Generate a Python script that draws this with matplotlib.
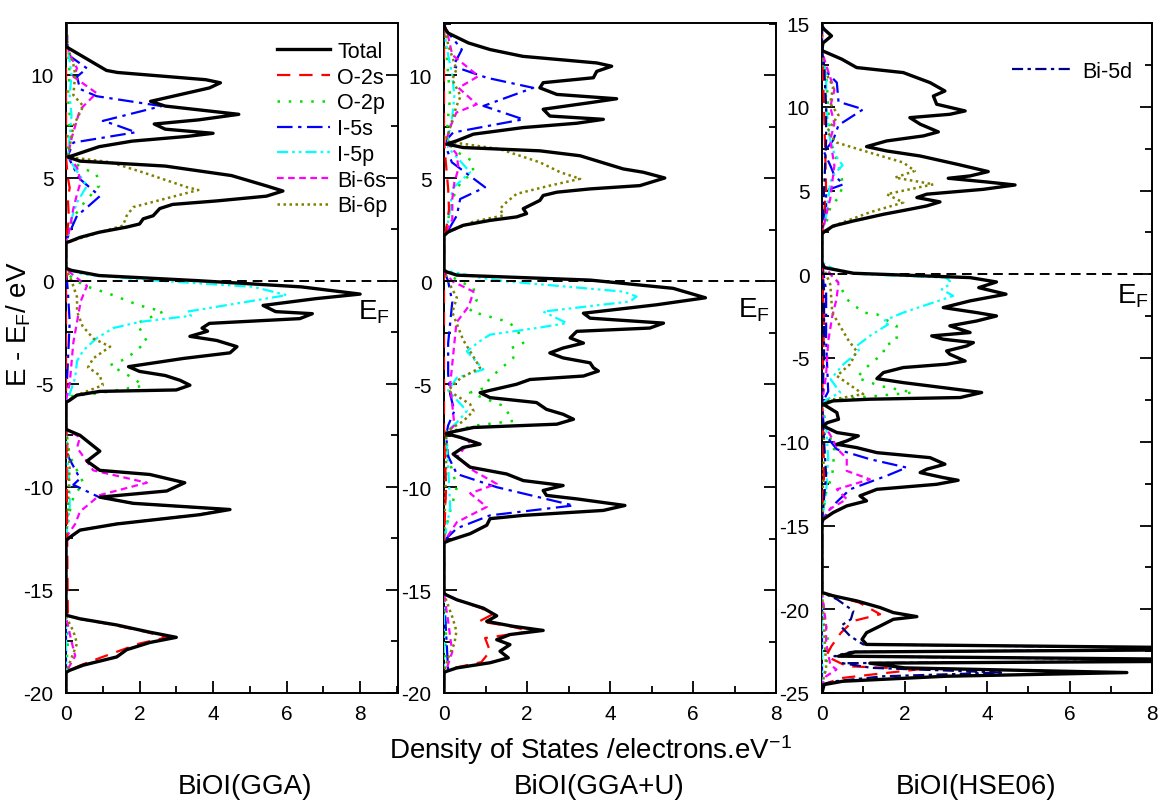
import matplotlib
matplotlib.use("Agg")
import matplotlib.pyplot as plt
from matplotlib.ticker import MultipleLocator

plt.rcParams['font.family'] = ['Liberation Sans', 'DejaVu Sans']
plt.rcParams['mathtext.fontset'] = 'custom'
plt.rcParams['mathtext.rm'] = 'Liberation Sans'
plt.rcParams['mathtext.it'] = 'Liberation Sans:italic'
plt.rcParams['axes.unicode_minus'] = False

# ---------------- data: (energy eV, DOS) pairs ----------------
# BiOI (GGA)
gga_total = [(12.5, 0), (11.35, 0), (11.3, 0.05), (10.2, 1.1), (10.1, 1.4), (9.75, 3.8), (9.6, 4.2), (9.35, 3.9),
             (8.7, 2.3), (8.47, 2.7), (8.07, 4.7), (7.8, 3.6), (7.6, 2.4), (7.35, 2.7), (7.15, 4.0), (7.0, 3.3),
             (6.77, 1.8), (6.5, 0.9), (6.05, 0.15), (6.0, 0.05), (5.8, 0.38), (5.56, 2.7), (5.1, 4.5), (4.6, 5.45),
             (4.35, 5.9), (4.1, 5.45), (3.87, 4.1), (3.7, 2.9), (3.5, 2.55), (3.15, 2.37), (3.0, 2.1), (2.75, 2.0),
             (2.6, 1.65), (2.35, 0.9), (2.1, 0.38), (1.9, 0.1), (1.85, 0), (0.6, 0), (0.5, 0.15), (0.25, 0.9),
             (0.0, 3.6), (-0.3, 6.4), (-0.65, 8.0), (-0.87, 6.8), (-1.2, 5.36), (-1.5, 5.7), (-1.6, 6.7),
             (-1.84, 6.36), (-2.07, 3.9), (-2.3, 3.7), (-2.45, 3.85), (-2.7, 3.37), (-2.9, 4.1), (-3.2, 4.65),
             (-3.5, 4.46), (-3.77, 3.2), (-4.17, 1.7), (-4.4, 2.0), (-4.6, 2.7), (-4.83, 3.1), (-5.07, 3.37),
             (-5.3, 3.0), (-5.37, 0.92), (-5.55, 0.3), (-5.8, 0.1), (-5.9, 0), (-7.2, 0), (-7.25, 0.05),
             (-7.5, 0.38), (-8.27, 0.92), (-8.75, 0.57), (-9.2, 0.92), (-9.4, 2.28), (-9.8, 3.23), (-10.2, 2.74),
             (-10.5, 0.92), (-10.8, 1.83), (-11.1, 4.46), (-11.35, 3.64), (-11.8, 1.38), (-12.1, 0.38),
             (-12.45, 0.1), (-12.6, 0), (-16.2, 0), (-16.25, 0.05), (-16.4, 0.38), (-16.7, 1.38), (-17.05, 2.28),
             (-17.3, 3.0), (-17.55, 2.28), (-17.9, 1.65), (-18.25, 1.38), (-18.65, 0.47), (-18.9, 0.1),
             (-19.0, 0), (-20, 0)]
gga_o2s = [(12.5, 0), (6.0, 0), (5.0, 0.05), (4.5, 0.1), (4.0, 0.05), (3.0, 0.08), (2.0, 0), (0.5, 0), (-5.8, 0),
           (-16.2, 0.05), (-16.4, 0.35), (-16.7, 1.3), (-17.05, 2.2), (-17.3, 2.74), (-17.6, 2.0), (-18.3, 0.92),
           (-18.65, 0.4), (-18.9, 0.1), (-19.0, 0), (-20, 0)]
gga_o2p = [(12.5, 0), (11.3, 0.05), (10.0, 0.1), (9.0, 0.05), (8.0, 0.1), (7.0, 0.05), (6.0, 0.05), (5.5, 0.4),
           (5.17, 0.83), (4.6, 0.9), (3.8, 0.5), (3.2, 0.25), (2.5, 0.1), (1.9, 0), (0.55, 0), (0.25, 0.1),
           (0.0, 0.25), (-0.3, 0.6), (-0.65, 1.2), (-1.2, 2.0), (-1.5, 2.64), (-2.07, 1.93), (-2.95, 2.2),
           (-3.77, 1.65), (-4.1, 1.2), (-4.73, 1.83), (-5.1, 2.1), (-5.45, 0.92), (-5.6, 0.15), (-5.9, 0),
           (-7.2, 0), (-8.5, 0.1), (-9.8, 0.47), (-10.5, 0.2), (-11.2, 0.1), (-12.5, 0), (-16.2, 0),
           (-17.5, 0.05), (-19, 0), (-20, 0)]
gga_i5s = [(12.5, 0), (11.3, 0.05), (10.9, 0.1), (10.3, 0.57), (9.9, 0.3), (9.3, 0.38), (8.95, 0.83),
           (8.47, 2.6), (7.75, 1.0), (7.6, 1.28), (7.2, 1.9), (6.7, 0.2), (6.05, 0.05), (5.5, 0.2), (4.93, 0.38),
           (4.1, 0.92), (3.6, 0.6), (3.15, 0.3), (2.35, 0.1), (1.9, 0), (0.55, 0), (-0.5, 0.05), (-2, 0.1),
           (-4, 0.05), (-5.8, 0), (-7.2, 0), (-8.5, 0.05), (-9.6, 0.38), (-9.9, 0.2), (-10.5, 0.9),
           (-10.8, 1.83), (-11.1, 4.4), (-11.35, 3.6), (-11.8, 1.38), (-12.1, 0.38), (-12.45, 0.1),
           (-12.6, 0), (-20, 0)]
gga_i5p = [(12.5, 0), (11.3, 0.05), (10.0, 0.15), (9.0, 0.1), (8.0, 0.15), (7.0, 0.1), (6.0, 0.05), (5.3, 0.3),
           (4.6, 0.57), (3.8, 0.3), (3.0, 0.15), (1.9, 0), (0.55, 0), (0.3, 0.5), (0.0, 2.5), (-0.3, 5.1),
           (-0.7, 6.0), (-1.0, 5.0), (-1.5, 3.3), (-1.7, 3.4), (-2.0, 2.0), (-2.3, 1.28), (-2.8, 0.83),
           (-3.38, 0.47), (-3.9, 0.3), (-4.7, 0.25), (-5.5, 0.1), (-5.9, 0), (-7.2, 0), (-9.0, 0.05),
           (-10.0, 0.1), (-11.0, 0.1), (-12.5, 0), (-20, 0)]
gga_bi6s = [(12.5, 0), (11.3, 0.05), (10.8, 0.15), (10.3, 0.3), (9.9, 0.2), (9.1, 0.83), (8.3, 0.38),
            (7.5, 0.25), (6.9, 0.15), (6.05, 0.05), (5.5, 0.3), (4.8, 0.4), (4.2, 0.3), (3.5, 0.2), (2.5, 0.1),
            (1.9, 0), (0.55, 0), (-0.25, 0.57), (-1.0, 0.4), (-2.0, 0.3), (-3.0, 0.2), (-4.0, 0.15),
            (-5.0, 0.1), (-5.8, 0), (-7.2, 0), (-7.6, 0.38), (-8.1, 0.3), (-9.2, 0.74), (-9.8, 2.2),
            (-10.4, 0.92), (-11.2, 0.38), (-11.8, 0.25), (-12.45, 0), (-16.3, 0), (-17.5, 0.15),
            (-18.2, 0.25), (-19, 0), (-20, 0)]
gga_bi6p = [(12.5, 0), (11.3, 0.05), (10.5, 0.2), (10.0, 0.25), (9.0, 0.2), (8.47, 0.47), (7.5, 0.2),
            (6.5, 0.1), (6.0, 0.05), (5.75, 1.2), (5.25, 2.1), (4.53, 3.3), (4.4, 3.6), (3.57, 1.83),
            (3.15, 1.65), (2.67, 1.55), (2.35, 0.92), (1.9, 0.1), (1.85, 0), (0.55, 0), (0.0, 0.15),
            (-0.8, 0.3), (-1.5, 0.3), (-2.2, 0.45), (-2.8, 0.74), (-3.2, 1.2), (-3.77, 0.74), (-4.2, 0.6),
            (-4.6, 0.92), (-5.07, 1.0), (-5.55, 0.3), (-5.85, 0), (-7.2, 0), (-9, 0.1), (-11, 0.05),
            (-12.5, 0), (-16.3, 0), (-17.0, 0.2), (-17.6, 0.3), (-18.3, 0.15), (-19, 0), (-20, 0)]

# BiOI (GGA+U)
ggau_total = [(12.5, 0), (12.3, 0.02), (12.06, 0.1), (11.58, 0.59), (11.26, 1.11), (10.93, 1.9), (10.61, 3.68),
              (10.45, 4.04), (10.2, 3.68), (9.89, 3.6), (9.65, 2.39), (9.4, 2.31), (9.08, 2.72), (8.87, 4.16),
              (8.68, 3.52), (8.36, 2.39), (8.03, 2.55), (7.87, 3.84), (7.68, 3.2), (7.47, 1.91), (7.15, 0.71),
              (6.83, 0.31), (6.67, 0.07), (6.5, 0.46), (6.34, 2.31), (6.1, 3.28), (5.46, 4.32), (5.3, 4.8),
              (5.02, 5.32), (4.65, 4.72), (4.49, 3.52), (4.33, 2.72), (4.17, 2.39), (3.93, 2.31), (3.69, 2.07),
              (3.53, 1.91), (3.29, 1.99), (3.13, 1.75), (2.96, 1.11), (2.72, 0.46), (2.4, 0.1), (2.23, 0),
              (0.55, 0), (0.47, 0.05), (0.3, 0.31), (0.06, 3.52), (-0.34, 5.52), (-0.8, 6.3), (-1.14, 5.12),
              (-1.55, 3.36), (-1.79, 3.52), (-2.03, 5.29), (-2.27, 4.96), (-2.43, 3.2), (-2.75, 3.04),
              (-3.0, 3.36), (-3.24, 2.87), (-3.48, 2.55), (-3.72, 2.87), (-3.96, 3.52), (-4.2, 3.6),
              (-4.36, 3.72), (-4.6, 3.36), (-4.77, 2.07), (-5.0, 1.75), (-5.41, 0.87), (-5.65, 1.11),
              (-5.89, 2.23), (-6.22, 2.47), (-6.46, 2.87), (-6.7, 3.12), (-6.94, 2.72), (-7.1, 0.71),
              (-7.34, 0.14), (-7.4, 0.05), (-7.58, 0.39), (-7.91, 0.87), (-8.07, 0.46), (-8.39, 0.22),
              (-9.03, 0.63), (-9.36, 1.51), (-9.68, 1.91), (-9.92, 2.87), (-10.16, 2.39), (-10.4, 2.47),
              (-10.57, 3.2), (-10.89, 4.36), (-11.13, 3.84), (-11.37, 1.91), (-11.53, 1.11), (-11.85, 1.03),
              (-12.26, 0.63), (-12.58, 0.14), (-12.7, 0), (-15.15, 0), (-15.23, 0.05), (-15.47, 0.31),
              (-15.88, 0.95), (-16.25, 1.27), (-16.52, 1.03), (-16.76, 1.67), (-16.96, 2.39), (-17.16, 1.59),
              (-17.41, 1.27), (-17.65, 1.59), (-17.97, 1.35), (-18.29, 1.55), (-18.53, 1.11), (-18.78, 0.31),
              (-18.94, 0.07), (-19.0, 0), (-20, 0)]
ggau_o2s = [(12.5, 0), (6.8, 0), (4.5, 0.1), (3.5, 0.12), (2.5, 0.05), (2.2, 0), (0.55, 0), (-7.4, 0),
            (-10.0, 0.05), (-12.6, 0), (-15.15, 0), (-15.47, 0.3), (-15.88, 0.9), (-16.2, 1.15),
            (-16.52, 0.85), (-16.76, 1.6), (-17.0, 2.1), (-17.33, 0.99), (-17.97, 1.11), (-18.5, 0.9),
            (-18.8, 0.2), (-19.0, 0), (-20, 0)]
ggau_o2p = [(12.5, 0), (11.5, 0.05), (10, 0.1), (9, 0.15), (8, 0.1), (6.8, 0.05), (6.3, 0.3), (5.86, 0.67),
            (5.3, 0.71), (4.8, 0.4), (4.0, 0.2), (3.0, 0.1), (2.2, 0), (0.55, 0), (0.2, 0.2), (-0.34, 0.71),
            (-0.9, 0.79), (-1.45, 0.63), (-1.95, 1.51), (-2.27, 1.75), (-3.0, 1.91), (-3.24, 1.63),
            (-3.72, 1.67), (-4.69, 1.11), (-5.2, 0.95), (-5.41, 0.63), (-6.05, 1.43), (-6.78, 1.67),
            (-7.0, 0.79), (-7.3, 0.1), (-7.5, 0.05), (-8.5, 0.1), (-10, 0.31), (-10.8, 0.2), (-11.5, 0.1),
            (-12.6, 0), (-15.2, 0), (-17, 0.05), (-19, 0), (-20, 0)]
ggau_i5s = [(12.5, 0), (12.2, 0.05), (11.26, 0.43), (10.45, 0.22), (9.89, 1.03), (9.4, 2.15), (8.52, 0.95),
            (7.87, 1.91), (7.23, 0.22), (6.9, 0.07), (6.5, 0.05), (5.78, 0.19), (4.57, 0.99), (4.0, 0.39),
            (3.2, 0.31), (2.3, 0.05), (2.2, 0), (0.55, 0), (0, 0.1), (-1, 0.2), (-2, 0.15), (-3, 0.1),
            (-4.5, 0.1), (-5.5, 0.15), (-6.3, 0.25), (-7, 0.1), (-7.5, 0.05), (-8.5, 0.1), (-9.36, 0.31),
            (-10.0, 1.27), (-10.89, 3.12), (-11.37, 1.11), (-12.0, 0.31), (-12.6, 0), (-15.2, 0),
            (-18.9, 0.1), (-19, 0), (-20, 0)]
ggau_i5p = [(12.5, 0), (11.5, 0.05), (10, 0.2), (9, 0.25), (8, 0.2), (7, 0.1), (6.5, 0.1), (5.3, 0.63),
            (4.5, 0.2), (3.5, 0.15), (2.3, 0.05), (2.2, 0), (0.55, 0), (0.2, 0.8), (0.0, 1.5), (-0.5, 4.32),
            (-0.74, 4.64), (-0.98, 4.48), (-1.47, 2.39), (-2.03, 2.96), (-2.27, 2.23), (-2.59, 1.11),
            (-2.9, 0.87), (-3.4, 0.55), (-4.28, 0.95), (-4.68, 0.31), (-5.3, 0.1), (-6.3, 0.55),
            (-6.86, 0.31), (-7.3, 0.05), (-9, 0.1), (-11, 0.15), (-12.6, 0), (-20, 0)]
ggau_bi6s = [(12.5, 0), (11.9, 0.1), (11, 0.2), (9.97, 0.83), (9.4, 0.35), (8.6, 0.79), (8.2, 0.3), (7.5, 0.15),
             (6.8, 0.05), (6.2, 0.3), (5.5, 0.35), (4.8, 0.25), (4, 0.2), (3, 0.2), (2.2, 0), (0.55, 0),
             (0.0, 0.2), (-0.5, 0.71), (-1.2, 0.6), (-2, 0.3), (-3, 0.25), (-4, 0.2), (-5, 0.15), (-6, 0.2),
             (-7, 0.25), (-7.4, 0.05), (-7.74, 0.63), (-8.55, 0.31), (-9.2, 0.71), (-9.84, 1.27),
             (-10.3, 0.63), (-10.96, 1.03), (-11.7, 0.31), (-12.5, 0.05), (-12.6, 0), (-15.2, 0),
             (-16.5, 0.1), (-17.3, 0.15), (-18, 0.2), (-18.9, 0.05), (-19, 0), (-20, 0)]
ggau_bi6p = [(12.5, 0), (11.5, 0.1), (10.3, 0.3), (9.8, 0.2), (9.0, 0.4), (8.5, 0.3), (7.5, 0.15), (6.8, 0.05),
             (6.42, 1.35), (5.78, 2.31), (5.3, 2.8), (4.98, 3.28), (4.65, 2.55), (4.25, 1.75), (3.85, 1.51),
             (3.53, 1.35), (3.2, 1.43), (2.9, 0.71), (2.4, 0.1), (2.2, 0), (0.55, 0), (0, 0.1), (-0.8, 0.31),
             (-1.5, 0.2), (-2.84, 0.46), (-4.2, 0.87), (-4.7, 0.4), (-5.3, 0.1), (-5.97, 0.63), (-6.3, 0.71),
             (-6.8, 0.46), (-7.3, 0.05), (-9, 0.05), (-12.6, 0), (-15.2, 0), (-16.3, 0.2), (-17, 0.3),
             (-17.6, 0.25), (-18.3, 0.1), (-19, 0), (-20, 0)]

# BiOI (HSE06)
hse_total = [(15, 0), (14.8, 0), (14.63, 0.05), (14.23, 0.23), (13.8, 0.02), (13.4, 0), (13.33, 0.02),
             (12.84, 0.48), (12.34, 0.84), (12.04, 1.97), (11.44, 2.62), (10.94, 2.98), (10.64, 2.7),
             (10.15, 2.78), (9.75, 3.47), (9.55, 3.1), (9.35, 2.13), (8.96, 2.38), (8.5, 2.82), (8.26, 2.46),
             (7.96, 1.57), (7.62, 1.08), (7.36, 1.57), (7.06, 2.38), (6.57, 3.27), (6.13, 4.03), (5.87, 3.59),
             (5.73, 3.06), (5.51, 3.99), (5.33, 4.68), (5.07, 3.91), (4.78, 2.54), (4.58, 2.3), (4.32, 2.86),
             (4.08, 2.54), (3.88, 2.13), (3.58, 1.49), (3.18, 0.76), (2.88, 0.27), (2.5, 0.03), (2.39, 0),
             (0.7, 0), (0.4, 0.05), (0.06, 0.76), (-0.2, 3.59), (-0.46, 4.23), (-0.8, 3.8), (-1.19, 4.46),
             (-1.59, 3.59), (-1.99, 2.94), (-2.29, 3.75), (-2.49, 4.23), (-2.79, 3.75), (-3.08, 3.1),
             (-3.48, 3.59), (-3.68, 2.66), (-3.88, 2.94), (-4.08, 3.67), (-4.28, 3.51), (-4.58, 3.02),
             (-4.78, 3.1), (-5.18, 3.47), (-5.37, 3.02), (-5.57, 1.97), (-5.87, 1.49), (-6.23, 1.33),
             (-6.47, 1.97), (-6.77, 2.94), (-7.06, 3.87), (-7.36, 3.35), (-7.46, 1.16), (-7.56, 0.27),
             (-7.76, 0.03), (-8.26, 0.36), (-8.66, 0.4), (-8.86, 0.13), (-9.06, 0.03), (-9.45, 0.36),
             (-9.65, 0.88), (-9.95, 0.6), (-10.15, 0.36), (-10.35, 0.84), (-10.65, 1.33), (-10.95, 2.62),
             (-11.34, 2.98), (-11.64, 2.54), (-11.84, 2.38), (-12.14, 2.94), (-12.3, 3.3), (-12.54, 2.78),
             (-12.84, 1.33), (-13.23, 0.92), (-13.53, 1.08), (-13.83, 0.6), (-14.23, 0.27), (-14.63, 0.03),
             (-14.8, 0), (-19.0, 0), (-19.2, 0.27), (-19.5, 0.84), (-19.9, 1.41), (-20.2, 1.73),
             (-20.44, 2.3), (-20.6, 1.73), (-21.0, 1.41), (-21.4, 1.08), (-21.8, 0.97), (-22.1, 1.08),
             (-22.37, 12.0), (-22.55, 0.8), (-22.8, 0.4), (-23.06, 12.0), (-23.22, 1.16), (-23.5, 2.0),
             (-23.78, 7.39), (-24.0, 3.0), (-24.3, 0.5), (-24.5, 0.05), (-25, 0)]
hse_o2s = [(15, 0), (13.3, 0), (10, 0.05), (5, 0.1), (2.4, 0), (0.7, 0), (-3, 0.05), (-7.7, 0), (-12, 0.05),
           (-14.7, 0), (-19.0, 0), (-19.2, 0.3), (-19.6, 0.9), (-20.3, 1.41), (-20.7, 0.76), (-21.4, 0.46),
           (-22.2, 0.23), (-22.8, 0.1), (-23.4, 0.6), (-23.58, 2.38), (-23.9, 1.2), (-24.1, 0.5),
           (-24.5, 0), (-25, 0)]
hse_o2p = [(15, 0), (13.3, 0), (12, 0.1), (10, 0.15), (8, 0.2), (6.5, 0.4), (6.07, 0.44), (5.5, 0.5),
           (4.7, 0.44), (4, 0.2), (3, 0.1), (2.4, 0), (0.7, 0), (0.3, 0.1), (-0.5, 0.4), (-1.49, 0.6),
           (-2.29, 1.0), (-2.39, 1.33), (-3.09, 1.81), (-3.98, 1.81), (-4.28, 1.49), (-4.7, 1.5),
           (-5.37, 1.16), (-6.17, 0.84), (-6.67, 1.41), (-7.06, 2.21), (-7.5, 0.3), (-7.76, 0), (-9, 0.1),
           (-10.5, 0.3), (-12, 0.25), (-13, 0.1), (-14.7, 0), (-19, 0), (-21, 0.1), (-22, 0.15),
           (-23.5, 0.1), (-24.5, 0), (-25, 0)]
hse_i5s = [(15, 0), (13.3, 0), (12.3, 0.02), (11.44, 0.36), (10.3, 0.4), (9.85, 1.0), (8.9, 0.4), (8.0, 0.27),
           (7.3, 0.05), (6.5, 0.2), (5.9, 0.3), (5.37, 0.52), (5.0, 0.1), (4, 0.1), (2.4, 0), (0.7, 0),
           (-1, 0.1), (-4, 0.1), (-7, 0.15), (-7.7, 0), (-9.5, 0.05), (-10.45, 0.36), (-11.04, 1.16),
           (-11.54, 2.05), (-12.0, 1.6), (-12.84, 0.68), (-13.8, 0.27), (-14.6, 0.02), (-14.7, 0),
           (-19, 0), (-25, 0)]
hse_i5p = [(15, 0), (13.3, 0), (12, 0.1), (10, 0.1), (8, 0.2), (7.2, 0.3), (6.5, 0.5), (6.0, 0.3), (5.5, 0.2),
           (4.5, 0.15), (3.5, 0.1), (2.4, 0), (0.7, 0), (0.3, 0.3), (0.0, 1.0), (-0.2, 3.0), (-0.4, 3.1),
           (-0.6, 3.1), (-0.9, 2.9), (-1.29, 3.18), (-2.29, 1.97), (-2.79, 1.49), (-3.0, 1.6),
           (-3.68, 1.16), (-4.28, 0.84), (-4.6, 0.9), (-5.37, 0.52), (-6.27, 0.21), (-7.06, 0.44),
           (-7.5, 0.1), (-7.76, 0), (-9, 0.1), (-11, 0.15), (-13, 0.1), (-14.7, 0), (-25, 0)]
hse_bi6s = [(15, 0), (13.3, 0), (12.5, 0.1), (11, 0.3), (10, 0.2), (9, 0.3), (8, 0.2), (6.5, 0.3), (5.5, 0.25),
            (4.5, 0.2), (3.5, 0.1), (2.4, 0), (0.7, 0), (0.0, 0.2), (-0.5, 0.4), (-1.5, 0.35), (-2.5, 0.25),
            (-4, 0.15), (-6, 0.1), (-7.7, 0), (-9.0, 0.05), (-9.6, 0.2), (-10.5, 0.4), (-11.0, 0.6),
            (-11.74, 0.6), (-12.24, 1.16), (-12.84, 0.36), (-13.43, 0.6), (-14.0, 0.2), (-14.7, 0),
            (-19.0, 0), (-21, 0.1), (-22, 0.1), (-23.3, 0.2), (-23.6, 0.35), (-24, 0.1), (-24.5, 0),
            (-25, 0)]
hse_bi6p = [(15, 0), (13.3, 0), (12.3, 0.03), (11.2, 0.27), (10.2, 0.2), (9.5, 0.4), (8.5, 0.12), (7.86, 0.36),
            (7.26, 1.16), (6.67, 1.97), (6.17, 2.25), (5.77, 1.77), (5.37, 2.7), (4.78, 1.57), (4.28, 1.97),
            (3.7, 1.16), (3.0, 0.4), (2.5, 0.05), (2.4, 0), (0.7, 0), (0.0, 0.1), (-0.6, 0.2), (-2.3, 0.25),
            (-3.9, 0.63), (-4.6, 0.84), (-5.37, 0.68), (-6.07, 0.36), (-7.16, 1.0), (-7.5, 0.2),
            (-7.76, 0), (-10, 0.05), (-14.7, 0), (-19, 0), (-21, 0.05), (-23.5, 0.1), (-24.5, 0), (-25, 0)]
hse_bi5d = [(15, 0), (13.3, 0), (12.5, 0.05), (10, 0.1), (8, 0.1), (5, 0.05), (2.4, 0), (0.7, 0), (-1, 0.05),
            (-5, 0.05), (-7.7, 0), (-10, 0.05), (-12, 0.1), (-14.7, 0), (-19.0, 0), (-19.4, 0.36),
            (-20.1, 0.76), (-20.6, 0.7), (-21.0, 0.45), (-21.6, 0.68), (-22.1, 1.0), (-22.37, 11.0),
            (-22.55, 0.7), (-22.8, 0.3), (-23.06, 11.0), (-23.22, 0.5), (-23.5, 1.2), (-23.78, 4.4),
            (-24.0, 1.5), (-24.3, 0.3), (-24.5, 0), (-25, 0)]

series_labels = ['Total', 'O-2s', 'O-2p', 'I-5s', 'I-5p', 'Bi-6s', 'Bi-6p']
panel_titles = ['BiOI(GGA)', 'BiOI(GGA+U)', 'BiOI(HSE06)']

# ---------------- styles ----------------
styles = {
    'Total': dict(color='black', lw=2.4, ls='-', zorder=5),
    'O-2s': dict(color='#FF0000', lw=1.6, ls=(0, (6, 4)), zorder=4),
    'O-2p': dict(color='#00E000', lw=1.8, ls=(0, (1, 3.5)), zorder=3),
    'I-5s': dict(color='#0000FF', lw=1.6, ls=(0, (7, 2.5, 1.5, 2.5)), zorder=3),
    'I-5p': dict(color='#00FFFF', lw=1.6, ls=(0, (5, 1.8, 1.2, 1.8, 1.2, 1.8)), zorder=3),
    'Bi-6s': dict(color='#FF00FF', lw=1.6, ls=(0, (3, 2)), zorder=3),
    'Bi-6p': dict(color='#808000', lw=1.8, ls=(0, (1, 1.4)), zorder=3),
    'Bi-5d': dict(color='#000080', lw=1.6, ls=(0, (5, 2, 1.5, 2)), zorder=4),
}

panels = [
    dict(curves={'Total': gga_total, 'O-2s': gga_o2s, 'O-2p': gga_o2p, 'I-5s': gga_i5s, 'I-5p': gga_i5p,
                 'Bi-6s': gga_bi6s, 'Bi-6p': gga_bi6p},
         rect=[66, 24, 398, 694], xlim=(0, 9.03), ylim=(-20, 12.5), ef=(7.95, -1.85)),
    dict(curves={'Total': ggau_total, 'O-2s': ggau_o2s, 'O-2p': ggau_o2p, 'I-5s': ggau_i5s, 'I-5p': ggau_i5p,
                 'Bi-6s': ggau_bi6s, 'Bi-6p': ggau_bi6p},
         rect=[444, 24, 776, 694], xlim=(0, 8), ylim=(-20, 12.55), ef=(7.08, -1.72)),
    dict(curves={'Total': hse_total, 'O-2s': hse_o2s, 'O-2p': hse_o2p, 'I-5s': hse_i5s, 'I-5p': hse_i5p,
                 'Bi-6s': hse_bi6s, 'Bi-6p': hse_bi6p, 'Bi-5d': hse_bi5d},
         rect=[822, 24, 1152, 694], xlim=(0, 8), ylim=(-25, 15), ef=(7.15, -1.67)),
]

W, H = 1161, 803
fig = plt.figure(figsize=(W / 100, H / 100), dpi=100)

axes = []
for p in panels:
    l, t, r, b = p['rect']
    ax = fig.add_axes([l / W, (H - b) / H, (r - l) / W, (b - t) / H])
    axes.append(ax)
    lines = {}
    order = [k for k in p['curves'] if k != 'Total'] + ['Total']
    for name in order:
        pts = p['curves'][name]
        e = [q[0] for q in pts]
        d = [q[1] for q in pts]
        st = styles[name]
        ln, = ax.plot(d, e, color=st['color'], lw=st['lw'], ls=st['ls'], zorder=st['zorder'],
                      solid_joinstyle='round', label=name)
        lines[name] = ln
    p['lines'] = lines
    ax.axhline(0, color='black', lw=1.4, ls=(0, (5, 3)), zorder=6)
    ax.set_xlim(*p['xlim'])
    ax.set_ylim(*p['ylim'])
    ax.xaxis.set_major_locator(MultipleLocator(2))
    ax.xaxis.set_minor_locator(MultipleLocator(1))
    ax.yaxis.set_major_locator(MultipleLocator(5))
    ax.yaxis.set_minor_locator(MultipleLocator(2.5))
    ax.tick_params(which='both', direction='in', left=True, right=True, top=False, bottom=True,
                   width=1.3, labelsize=15)
    ax.tick_params(which='major', length=9)
    ax.tick_params(which='minor', length=5)
    ax.tick_params(axis='x', pad=8)
    ax.tick_params(axis='y', pad=9)
    for s in ax.spines.values():
        s.set_linewidth(1.4)
    ax.text(p['ef'][0], p['ef'][1], r'$\mathregular{E_F}$', fontsize=20, ha='left', va='baseline', zorder=7)

# legends
p0 = panels[0]
leg1 = axes[0].legend([p0['lines'][n] for n in series_labels], series_labels, loc='upper left',
                      bbox_to_anchor=((277 - 66) / 332, (694 - 42) / 670), frameon=False, fontsize=15.5,
                      borderpad=0, borderaxespad=0, handlelength=2.45, handletextpad=0.35, labelspacing=0.22)
p2 = panels[2]
leg3 = axes[2].legend([p2['lines']['Bi-5d']], ['Bi-5d'], loc='upper left',
                      bbox_to_anchor=((1012 - 822) / 330, (694 - 62) / 670), frameon=False, fontsize=15.5,
                      borderpad=0, borderaxespad=0, handlelength=2.9, handletextpad=0.35)

fig.text(19 / W, 1 - 324 / H, r'E - E$\mathregular{_F}$/ eV', rotation=90, ha='center', va='center', fontsize=20)
fig.text(590 / W, 1 - 750 / H, r'Density of States /electrons.eV$\mathregular{^{-1}}$', ha='center',
         va='center', fontsize=20)
for title, cx in zip(panel_titles, [245, 599, 976]):
    fig.text(cx / W, 1 - 787 / H, title, ha='center', va='center', fontsize=20)

fig.savefig('out.png', dpi=100)
